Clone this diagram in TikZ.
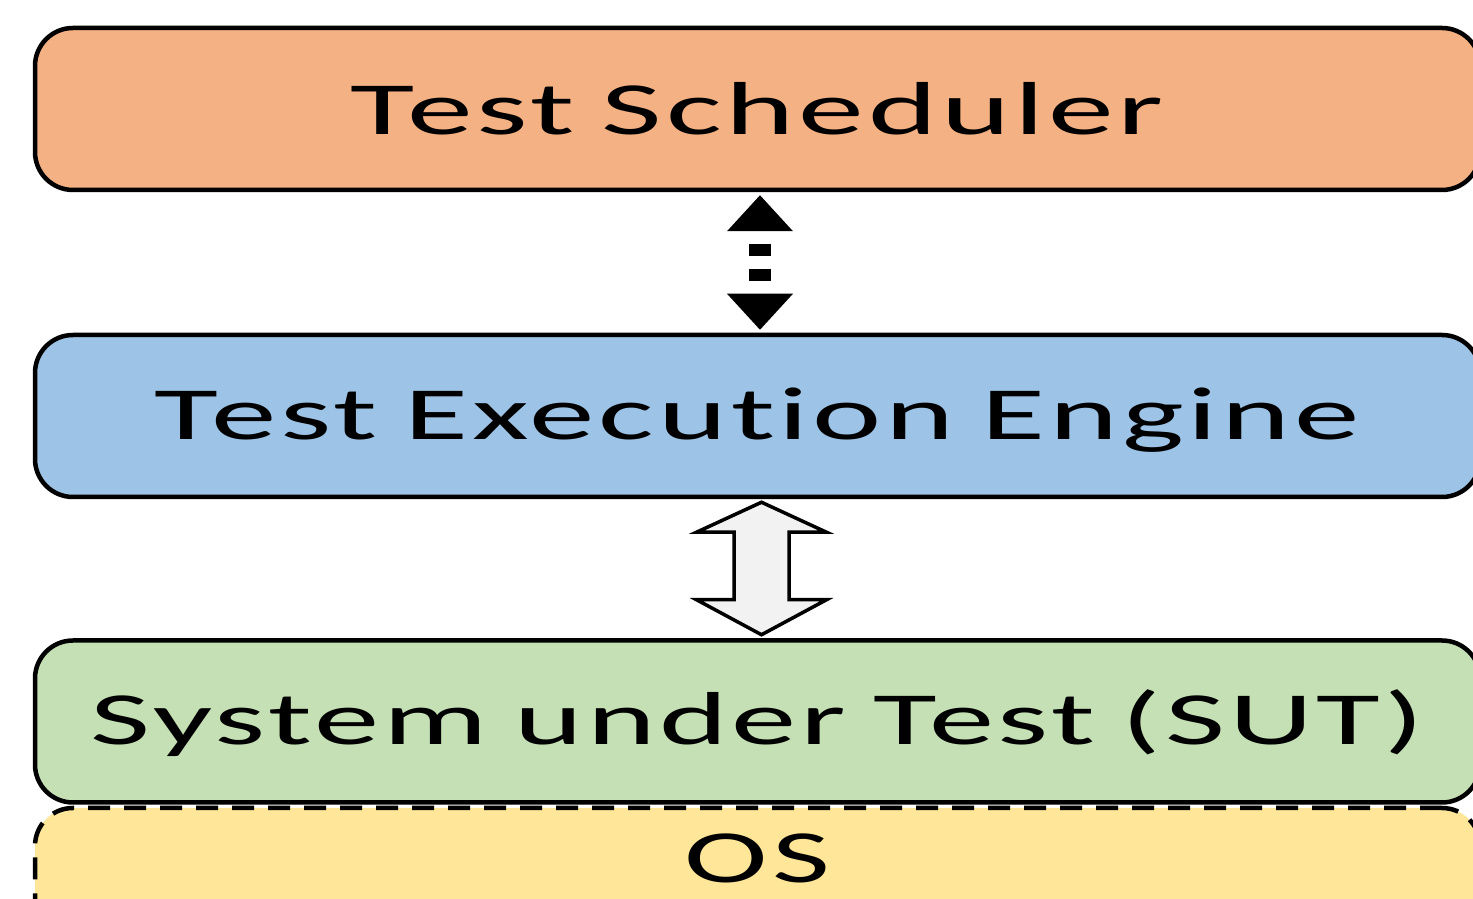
\documentclass[tikz,border=0pt]{standalone}
\usepackage{fontspec}
\usepackage{graphicx}
\setmainfont{Carlito}[Ligatures=NoCommon, LetterSpace=3, WordSpace=0.8]
\usetikzlibrary{calc}
\definecolor{cOrange}{HTML}{F4B183}
\definecolor{cBlue}{HTML}{9DC3E6}
\definecolor{cGreen}{HTML}{C5E0B4}
\definecolor{cYellow}{HTML}{FFE699}
\definecolor{cGrey}{HTML}{F2F2F2}
\tikzset{
  layerbox/.style={draw=black, line width=4.5pt, rounded corners=38pt,
    minimum width=1445pt, minimum height=162pt, inner sep=0pt, text=black},
  dashbox/.style={layerbox, dash pattern=on 22pt off 14pt},
}
\newcommand{\boxtext}[2]{\resizebox{#1}{\height}{\fontsize{75}{80}\selectfont #2}}
\begin{document}
\begin{tikzpicture}[x=1pt,y=1pt]
\useasboundingbox (0,0) rectangle (1473,899);
\clip (0,0) rectangle (1473,899);
\fill[white] (0,0) rectangle (1473,899);

\node[dashbox, fill=cYellow, text height=0pt, text depth=12pt] (os) at (757.5,10) {\boxtext{145pt}{OS}};
\node[layerbox, fill=cOrange, text height=52pt, text depth=0pt] (top) at (757.5,790) {\boxtext{813pt}{Test Scheduler}};
\node[layerbox, fill=cBlue, text height=48pt, text depth=0pt] (mid) at (757.5,483) {\boxtext{1205pt}{Test Execution Engine}};
\node[layerbox, fill=cGreen, text height=47pt, text depth=0pt] (bot) at (757.5,177.5) {\boxtext{1333pt}{System under Test (SUT)}};

% dotted double arrow
\coordinate (d1) at ([xshift=2.5pt,yshift=-3pt]top.south);
\coordinate (d2) at ([xshift=2.5pt,yshift=3pt]mid.north);
\draw[line width=22pt, dash pattern=on 12.5pt off 12.5pt, dash phase=12.5pt,
      shorten <=36pt, shorten >=36pt] (d1) -- (d2);
\fill (d1) -- ++(33,-36) -- ++(-66,0) -- cycle;
\fill (d2) -- ++(33,36) -- ++(-66,0) -- cycle;

% hollow double arrow
\coordinate (ha) at ([xshift=4pt,yshift=-3pt]mid.south);
\coordinate (hb) at ([xshift=4pt,yshift=3.5pt]bot.north);
\draw[line width=3.5pt, fill=cGrey, line join=miter]
  (ha) -- ($(ha)+(65,-30)$) -- ($(ha)+(27.5,-30)$) -- ($(hb)+(27.5,35)$)
  -- ($(hb)+(65,35)$) -- (hb) -- ($(hb)+(-65,35)$) -- ($(hb)+(-27.5,35)$)
  -- ($(ha)+(-27.5,-30)$) -- ($(ha)+(-65,-30)$) -- cycle;
\end{tikzpicture}
\end{document}
